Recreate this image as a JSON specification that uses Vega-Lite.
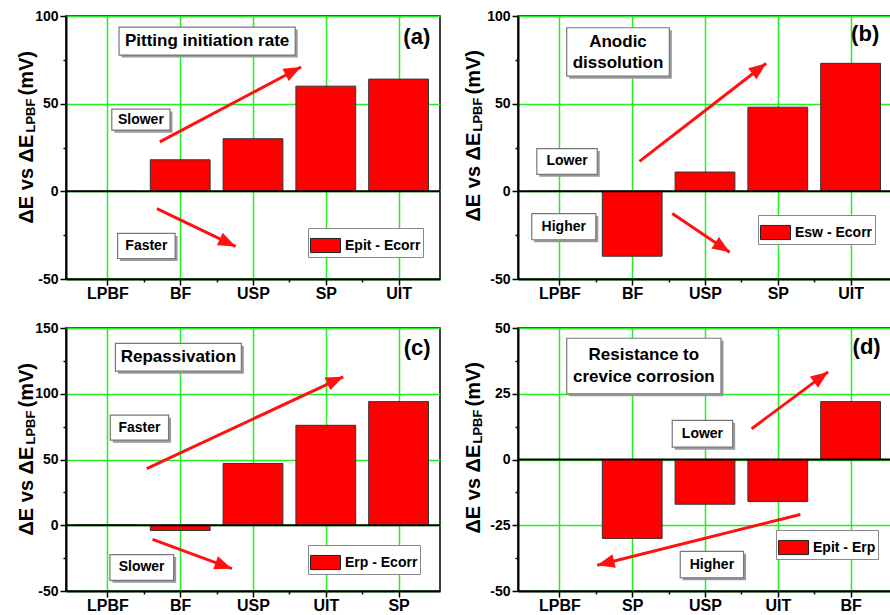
{
"$schema": "https://vega.github.io/schema/vega-lite/v6.json",
"padding": {"left": 15, "top": 8, "right": 0, "bottom": 0},
"bounds": "flush",
"columns": 2,
"spacing": {"row": 49, "column": 78},
"resolve": {"scale": {"fill": "independent"}, "legend": {"fill": "independent"}},
"config": {
  "font": "Liberation Sans",
  "view": {"stroke": "black", "strokeWidth": 1.5},
  "axis": {"domainColor": "black", "domainWidth": 2, "tickColor": "black", "tickWidth": 1.5, "labelColor": "black", "labelFont": "Liberation Sans", "labelFontWeight": "bold", "titleFont": "Liberation Sans", "titleFontWeight": "bold", "titleColor": "black", "gridColor": "#22ee22", "gridWidth": 1.5},
  "legend": {"labelFont": "Liberation Sans", "labelFontWeight": "bold", "labelColor": "black", "labelFontSize": 14, "strokeColor": "#888", "fillColor": "white", "padding": 2, "labelOffset": 4, "symbolType": "M-1,-0.47H1V0.47H-1Z", "symbolSize": 900, "symbolStrokeColor": "#222", "symbolStrokeWidth": 1}
},
"concat": [
{
 "width": 374, "height": 263,
 "resolve": {"axis": {"y": "independent", "x": "independent"}},
 "layer": [
  {
   "data": {"values": [
     {"order": 1, "sample": "LPBF", "value": 0, "series": "Epit - Ecorr"},
     {"order": 2, "sample": "BF", "value": 18, "series": "Epit - Ecorr"},
     {"order": 3, "sample": "USP", "value": 30, "series": "Epit - Ecorr"},
     {"order": 4, "sample": "SP", "value": 60, "series": "Epit - Ecorr"},
     {"order": 5, "sample": "UIT", "value": 64, "series": "Epit - Ecorr"}]},
   "mark": {"type": "bar", "stroke": "#333", "strokeWidth": 1, "width": 59.8},
   "encoding": {
     "x": {"field": "order", "type": "quantitative", "scale": {"domain": [0.5, 5.5], "nice": false, "zero": false}, "axis": {"title": null, "values": [1, 2, 3, 4, 5], "labelExpr": "datum.value == 1 ? 'LPBF' : datum.value == 2 ? 'BF' : datum.value == 3 ? 'USP' : datum.value == 4 ? 'SP' : 'UIT'", "labelFontSize": 16, "labelPadding": 0, "tickSize": 6, "grid": true}},
     "y": {"field": "value", "type": "quantitative", "scale": {"domain": [-50, 100], "nice": false, "zero": false}, "axis": {"orient": "left", "values": [-50, -25, 0, 25, 50, 75, 100], "labelExpr": "datum.value % 50 === 0 ? '' + datum.value : ''", "tickSize": {"condition": {"test": "datum.value % 50 !== 0", "value": 3}, "value": 6}, "gridOpacity": {"condition": {"test": "datum.value % 50 !== 0", "value": 0}, "value": 1}, "grid": true, "labelFontSize": 14, "labelPadding": 2, "title": "ΔE vs ΔE", "titleFontSize": 20, "titleAngle": 270, "titleAlign": "left", "titleBaseline": "alphabetic", "titleX": -34, "titleY": 207}},
     "fill": {"field": "series", "type": "nominal", "scale": {"range": ["#ff0000"]}, "legend": {"title": null, "orient": "none", "legendX": 242, "legendY": 212}}
   }
  },
  {"data": {"values": [{}]}, "mark": {"type": "rule", "color": "black", "strokeWidth": 2}, "encoding": {"y": {"datum": 0, "axis": null}}},
  {"data": {"values": [{}]}, "mark": {"type": "point", "opacity": 0}, "encoding": {"x": {"datum": 1, "type": "quantitative", "axis": {"orient": "bottom", "values": [1.5, 2.5, 3.5, 4.5], "labels": false, "domain": false, "grid": false, "tickSize": 3, "title": null}}, "y": {"datum": 0, "axis": {"orient": "left", "labels": false, "ticks": false, "domain": false, "grid": false, "title": "LPBF", "titleFontSize": 13, "titleAngle": 270, "titleAlign": "left", "titleBaseline": "alphabetic", "titleX": -32, "titleY": 116}}}},
  {"data": {"values": [{}]}, "mark": {"type": "point", "opacity": 0}, "encoding": {"x": {"datum": 1, "type": "quantitative", "axis": null}, "y": {"datum": 0, "axis": {"orient": "left", "labels": false, "ticks": false, "domain": false, "grid": false, "title": "(mV)", "titleFontSize": 20, "titleAngle": 270, "titleAlign": "left", "titleBaseline": "alphabetic", "titleX": -34, "titleY": 79}}}},
  {"data": {"values": [
     {"label": "Pitting initiation rate", "kind": "title", "x1": 1.16, "x2": 3.58, "y1": 77.7, "y2": 93.7, "tx": 2.37, "ty": 85.7},
     {"label": "Slower", "kind": "side", "x1": 1.06, "x2": 1.86, "y1": 34.9, "y2": 46.9, "tx": 1.46, "ty": 40.9},
     {"label": "Faster", "kind": "side", "x1": 1.14, "x2": 1.93, "y1": -38.3, "y2": -24, "tx": 1.535, "ty": -31.2}]},
   "layer": [
     {"mark": {"type": "rect", "fill": "#9a9a9a", "xOffset": 2.5, "x2Offset": 2.5, "yOffset": 2.5, "y2Offset": 2.5},
      "encoding": {"x": {"field": "x1", "type": "quantitative", "axis": null}, "x2": {"field": "x2"}, "y": {"field": "y1", "type": "quantitative", "axis": null}, "y2": {"field": "y2"}}},
     {"mark": {"type": "rect", "fill": "white", "stroke": "#777", "strokeWidth": 1.2},
      "encoding": {"x": {"field": "x1", "type": "quantitative", "axis": null}, "x2": {"field": "x2"}, "y": {"field": "y1", "type": "quantitative", "axis": null}, "y2": {"field": "y2"}}},
     {"transform": [{"filter": "datum.kind === 'title'"}], "mark": {"type": "text", "fontSize": 17, "fontWeight": "bold", "color": "black", "baseline": "middle", "lineBreak": "\n", "lineHeight": 21.6},
      "encoding": {"x": {"field": "tx", "type": "quantitative", "axis": null}, "y": {"field": "ty", "type": "quantitative", "axis": null}, "text": {"field": "label"}}},
     {"transform": [{"filter": "datum.kind === 'side'"}], "mark": {"type": "text", "fontSize": 14, "fontWeight": "bold", "color": "black", "baseline": "middle"},
      "encoding": {"x": {"field": "tx", "type": "quantitative", "axis": null}, "y": {"field": "ty", "type": "quantitative", "axis": null}, "text": {"field": "label"}}}
   ]},
  {"data": {"values": [
     {"x1": 1.72, "y1": 28.2, "x2": 3.66, "y2": 70.9, "ang": -27},
     {"x1": 1.68, "y1": -9.9, "x2": 2.76, "y2": -31.4, "ang": 25}]},
   "layer": [
     {"mark": {"type": "rule", "color": "#ff1111", "strokeWidth": 3},
      "encoding": {"x": {"field": "x1", "type": "quantitative", "axis": null}, "x2": {"field": "x2"}, "y": {"field": "y1", "type": "quantitative", "axis": null}, "y2": {"field": "y2"}}},
     {"mark": {"type": "point", "shape": "M0,0L-1,-0.4L-1,0.4Z", "size": 1200, "filled": true, "color": "#ff1111", "opacity": 1},
      "encoding": {"x": {"field": "x2", "type": "quantitative", "axis": null}, "y": {"field": "y2", "type": "quantitative", "axis": null}, "angle": {"field": "ang", "type": "quantitative", "scale": null}}}
   ]},
  {"data": {"values": [{"t": "(a)", "tx": 5.25, "ty": 88}]},
   "mark": {"type": "text", "fontSize": 22, "fontWeight": "bold", "color": "black", "baseline": "middle"},
   "encoding": {"x": {"field": "tx", "type": "quantitative", "axis": null}, "y": {"field": "ty", "type": "quantitative", "axis": null}, "text": {"field": "t"}}}
 ]
},
{
 "width": 374, "height": 263,
 "resolve": {"axis": {"y": "independent", "x": "independent"}},
 "layer": [
  {
   "data": {"values": [
     {"order": 1, "sample": "LPBF", "value": 0, "series": "Esw - Ecorr"},
     {"order": 2, "sample": "BF", "value": -37, "series": "Esw - Ecorr"},
     {"order": 3, "sample": "USP", "value": 11, "series": "Esw - Ecorr"},
     {"order": 4, "sample": "SP", "value": 48, "series": "Esw - Ecorr"},
     {"order": 5, "sample": "UIT", "value": 73, "series": "Esw - Ecorr"}]},
   "mark": {"type": "bar", "stroke": "#333", "strokeWidth": 1, "width": 59.8},
   "encoding": {
     "x": {"field": "order", "type": "quantitative", "scale": {"domain": [0.5, 5.5], "nice": false, "zero": false}, "axis": {"title": null, "values": [1, 2, 3, 4, 5], "labelExpr": "datum.value == 1 ? 'LPBF' : datum.value == 2 ? 'BF' : datum.value == 3 ? 'USP' : datum.value == 4 ? 'SP' : 'UIT'", "labelFontSize": 16, "labelPadding": 0, "tickSize": 6, "grid": true}},
     "y": {"field": "value", "type": "quantitative", "scale": {"domain": [-50, 100], "nice": false, "zero": false}, "axis": {"orient": "left", "values": [-50, -25, 0, 25, 50, 75, 100], "labelExpr": "datum.value % 50 === 0 ? '' + datum.value : ''", "tickSize": {"condition": {"test": "datum.value % 50 !== 0", "value": 3}, "value": 6}, "gridOpacity": {"condition": {"test": "datum.value % 50 !== 0", "value": 0}, "value": 1}, "grid": true, "labelFontSize": 14, "labelPadding": 2, "title": "ΔE vs ΔE", "titleFontSize": 20, "titleAngle": 270, "titleAlign": "left", "titleBaseline": "alphabetic", "titleX": -39, "titleY": 205}},
     "fill": {"field": "series", "type": "nominal", "scale": {"range": ["#ff0000"]}, "legend": {"title": null, "orient": "none", "legendX": 240, "legendY": 199}}
   }
  },
  {"data": {"values": [{}]}, "mark": {"type": "rule", "color": "black", "strokeWidth": 2}, "encoding": {"y": {"datum": 0, "axis": null}}},
  {"data": {"values": [{}]}, "mark": {"type": "point", "opacity": 0}, "encoding": {"x": {"datum": 1, "type": "quantitative", "axis": {"orient": "bottom", "values": [1.5, 2.5, 3.5, 4.5], "labels": false, "domain": false, "grid": false, "tickSize": 3, "title": null}}, "y": {"datum": 0, "axis": {"orient": "left", "labels": false, "ticks": false, "domain": false, "grid": false, "title": "LPBF", "titleFontSize": 13, "titleAngle": 270, "titleAlign": "left", "titleBaseline": "alphabetic", "titleX": -37, "titleY": 115}}}},
  {"data": {"values": [{}]}, "mark": {"type": "point", "opacity": 0}, "encoding": {"x": {"datum": 1, "type": "quantitative", "axis": null}, "y": {"datum": 0, "axis": {"orient": "left", "labels": false, "ticks": false, "domain": false, "grid": false, "title": "(mV)", "titleFontSize": 20, "titleAngle": 270, "titleAlign": "left", "titleBaseline": "alphabetic", "titleX": -39, "titleY": 78}}}},
  {"data": {"values": [
     {"label": "Anodic\ndissolution", "kind": "title", "x1": 1.10, "x2": 2.51, "y1": 65.7, "y2": 93.3, "tx": 1.805, "ty": 85.3},
     {"label": "Lower", "kind": "side", "x1": 0.69, "x2": 1.52, "y1": 9.7, "y2": 24.4, "tx": 1.105, "ty": 17.05},
     {"label": "Higher", "kind": "side", "x1": 0.62, "x2": 1.50, "y1": -27.6, "y2": -12.7, "tx": 1.06, "ty": -20.15}]},
   "layer": [
     {"mark": {"type": "rect", "fill": "#9a9a9a", "xOffset": 2.5, "x2Offset": 2.5, "yOffset": 2.5, "y2Offset": 2.5},
      "encoding": {"x": {"field": "x1", "type": "quantitative", "axis": null}, "x2": {"field": "x2"}, "y": {"field": "y1", "type": "quantitative", "axis": null}, "y2": {"field": "y2"}}},
     {"mark": {"type": "rect", "fill": "white", "stroke": "#777", "strokeWidth": 1.2},
      "encoding": {"x": {"field": "x1", "type": "quantitative", "axis": null}, "x2": {"field": "x2"}, "y": {"field": "y1", "type": "quantitative", "axis": null}, "y2": {"field": "y2"}}},
     {"transform": [{"filter": "datum.kind === 'title'"}], "mark": {"type": "text", "fontSize": 17, "fontWeight": "bold", "color": "black", "baseline": "middle", "lineBreak": "\n", "lineHeight": 21.6},
      "encoding": {"x": {"field": "tx", "type": "quantitative", "axis": null}, "y": {"field": "ty", "type": "quantitative", "axis": null}, "text": {"field": "label"}}},
     {"transform": [{"filter": "datum.kind === 'side'"}], "mark": {"type": "text", "fontSize": 14, "fontWeight": "bold", "color": "black", "baseline": "middle"},
      "encoding": {"x": {"field": "tx", "type": "quantitative", "axis": null}, "y": {"field": "ty", "type": "quantitative", "axis": null}, "text": {"field": "label"}}}
   ]},
  {"data": {"values": [
     {"x1": 2.10, "y1": 17.1, "x2": 3.84, "y2": 73, "ang": -37},
     {"x1": 2.55, "y1": -12.7, "x2": 3.34, "y2": -34.7, "ang": 33}]},
   "layer": [
     {"mark": {"type": "rule", "color": "#ff1111", "strokeWidth": 3},
      "encoding": {"x": {"field": "x1", "type": "quantitative", "axis": null}, "x2": {"field": "x2"}, "y": {"field": "y1", "type": "quantitative", "axis": null}, "y2": {"field": "y2"}}},
     {"mark": {"type": "point", "shape": "M0,0L-1,-0.4L-1,0.4Z", "size": 1200, "filled": true, "color": "#ff1111", "opacity": 1},
      "encoding": {"x": {"field": "x2", "type": "quantitative", "axis": null}, "y": {"field": "y2", "type": "quantitative", "axis": null}, "angle": {"field": "ang", "type": "quantitative", "scale": null}}}
   ]},
  {"data": {"values": [{"t": "(b)", "tx": 5.2, "ty": 90}]},
   "mark": {"type": "text", "fontSize": 22, "fontWeight": "bold", "color": "black", "baseline": "middle"},
   "encoding": {"x": {"field": "tx", "type": "quantitative", "axis": null}, "y": {"field": "ty", "type": "quantitative", "axis": null}, "text": {"field": "t"}}}
 ]
},
{
 "width": 374, "height": 263,
 "resolve": {"axis": {"y": "independent", "x": "independent"}},
 "layer": [
  {
   "data": {"values": [
     {"order": 1, "sample": "LPBF", "value": 0, "series": "Erp - Ecorr"},
     {"order": 2, "sample": "BF", "value": -4, "series": "Erp - Ecorr"},
     {"order": 3, "sample": "USP", "value": 47, "series": "Erp - Ecorr"},
     {"order": 4, "sample": "UIT", "value": 76, "series": "Erp - Ecorr"},
     {"order": 5, "sample": "SP", "value": 94, "series": "Erp - Ecorr"}]},
   "mark": {"type": "bar", "stroke": "#333", "strokeWidth": 1, "width": 59.8},
   "encoding": {
     "x": {"field": "order", "type": "quantitative", "scale": {"domain": [0.5, 5.5], "nice": false, "zero": false}, "axis": {"title": null, "values": [1, 2, 3, 4, 5], "labelExpr": "datum.value == 1 ? 'LPBF' : datum.value == 2 ? 'BF' : datum.value == 3 ? 'USP' : datum.value == 4 ? 'UIT' : 'SP'", "labelFontSize": 16, "labelPadding": 0, "tickSize": 6, "grid": true}},
     "y": {"field": "value", "type": "quantitative", "scale": {"domain": [-50, 150], "nice": false, "zero": false}, "axis": {"orient": "left", "values": [-50, -25, 0, 25, 50, 75, 100, 125, 150], "labelExpr": "datum.value % 50 === 0 ? '' + datum.value : ''", "tickSize": {"condition": {"test": "datum.value % 50 !== 0", "value": 3}, "value": 6}, "gridOpacity": {"condition": {"test": "datum.value % 50 !== 0", "value": 0}, "value": 1}, "grid": true, "labelFontSize": 14, "labelPadding": 2, "title": "ΔE vs ΔE", "titleFontSize": 20, "titleAngle": 270, "titleAlign": "left", "titleBaseline": "alphabetic", "titleX": -34, "titleY": 207}},
     "fill": {"field": "series", "type": "nominal", "scale": {"range": ["#ff0000"]}, "legend": {"title": null, "orient": "none", "legendX": 242, "legendY": 217}}
   }
  },
  {"data": {"values": [{}]}, "mark": {"type": "rule", "color": "black", "strokeWidth": 2}, "encoding": {"y": {"datum": 0, "axis": null}}},
  {"data": {"values": [{}]}, "mark": {"type": "point", "opacity": 0}, "encoding": {"x": {"datum": 1, "type": "quantitative", "axis": {"orient": "bottom", "values": [1.5, 2.5, 3.5, 4.5], "labels": false, "domain": false, "grid": false, "tickSize": 3, "title": null}}, "y": {"datum": 0, "axis": {"orient": "left", "labels": false, "ticks": false, "domain": false, "grid": false, "title": "LPBF", "titleFontSize": 13, "titleAngle": 270, "titleAlign": "left", "titleBaseline": "alphabetic", "titleX": -32, "titleY": 116}}}},
  {"data": {"values": [{}]}, "mark": {"type": "point", "opacity": 0}, "encoding": {"x": {"datum": 1, "type": "quantitative", "axis": null}, "y": {"datum": 0, "axis": {"orient": "left", "labels": false, "ticks": false, "domain": false, "grid": false, "title": "(mV)", "titleFontSize": 20, "titleAngle": 270, "titleAlign": "left", "titleBaseline": "alphabetic", "titleX": -34, "titleY": 79}}}},
  {"data": {"values": [
     {"label": "Repassivation", "kind": "title", "x1": 1.11, "x2": 2.84, "y1": 117.2, "y2": 138.3, "tx": 1.975, "ty": 127.75},
     {"label": "Faster", "kind": "side", "x1": 1.04, "x2": 1.84, "y1": 64.7, "y2": 83.7, "tx": 1.44, "ty": 74.2},
     {"label": "Slower", "kind": "side", "x1": 1.035, "x2": 1.91, "y1": -41.9, "y2": -22.3, "tx": 1.47, "ty": -32.1}]},
   "layer": [
     {"mark": {"type": "rect", "fill": "#9a9a9a", "xOffset": 2.5, "x2Offset": 2.5, "yOffset": 2.5, "y2Offset": 2.5},
      "encoding": {"x": {"field": "x1", "type": "quantitative", "axis": null}, "x2": {"field": "x2"}, "y": {"field": "y1", "type": "quantitative", "axis": null}, "y2": {"field": "y2"}}},
     {"mark": {"type": "rect", "fill": "white", "stroke": "#777", "strokeWidth": 1.2},
      "encoding": {"x": {"field": "x1", "type": "quantitative", "axis": null}, "x2": {"field": "x2"}, "y": {"field": "y1", "type": "quantitative", "axis": null}, "y2": {"field": "y2"}}},
     {"transform": [{"filter": "datum.kind === 'title'"}], "mark": {"type": "text", "fontSize": 17, "fontWeight": "bold", "color": "black", "baseline": "middle", "lineBreak": "\n", "lineHeight": 21.6},
      "encoding": {"x": {"field": "tx", "type": "quantitative", "axis": null}, "y": {"field": "ty", "type": "quantitative", "axis": null}, "text": {"field": "label"}}},
     {"transform": [{"filter": "datum.kind === 'side'"}], "mark": {"type": "text", "fontSize": 14, "fontWeight": "bold", "color": "black", "baseline": "middle"},
      "encoding": {"x": {"field": "tx", "type": "quantitative", "axis": null}, "y": {"field": "ty", "type": "quantitative", "axis": null}, "text": {"field": "label"}}}
   ]},
  {"data": {"values": [
     {"x1": 1.54, "y1": 43.1, "x2": 4.24, "y2": 112.9, "ang": -24},
     {"x1": 1.62, "y1": -10.7, "x2": 2.71, "y2": -33, "ang": 20}]},
   "layer": [
     {"mark": {"type": "rule", "color": "#ff1111", "strokeWidth": 3},
      "encoding": {"x": {"field": "x1", "type": "quantitative", "axis": null}, "x2": {"field": "x2"}, "y": {"field": "y1", "type": "quantitative", "axis": null}, "y2": {"field": "y2"}}},
     {"mark": {"type": "point", "shape": "M0,0L-1,-0.4L-1,0.4Z", "size": 1200, "filled": true, "color": "#ff1111", "opacity": 1},
      "encoding": {"x": {"field": "x2", "type": "quantitative", "axis": null}, "y": {"field": "y2", "type": "quantitative", "axis": null}, "angle": {"field": "ang", "type": "quantitative", "scale": null}}}
   ]},
  {"data": {"values": [{"t": "(c)", "tx": 5.255, "ty": 134.5}]},
   "mark": {"type": "text", "fontSize": 22, "fontWeight": "bold", "color": "black", "baseline": "middle"},
   "encoding": {"x": {"field": "tx", "type": "quantitative", "axis": null}, "y": {"field": "ty", "type": "quantitative", "axis": null}, "text": {"field": "t"}}}
 ]
},
{
 "width": 374, "height": 263,
 "resolve": {"axis": {"y": "independent", "x": "independent"}},
 "layer": [
  {
   "data": {"values": [
     {"order": 1, "sample": "LPBF", "value": 0, "series": "Epit - Erp"},
     {"order": 2, "sample": "SP", "value": -30, "series": "Epit - Erp"},
     {"order": 3, "sample": "USP", "value": -17, "series": "Epit - Erp"},
     {"order": 4, "sample": "UIT", "value": -16, "series": "Epit - Erp"},
     {"order": 5, "sample": "BF", "value": 22, "series": "Epit - Erp"}]},
   "mark": {"type": "bar", "stroke": "#333", "strokeWidth": 1, "width": 59.8},
   "encoding": {
     "x": {"field": "order", "type": "quantitative", "scale": {"domain": [0.5, 5.5], "nice": false, "zero": false}, "axis": {"title": null, "values": [1, 2, 3, 4, 5], "labelExpr": "datum.value == 1 ? 'LPBF' : datum.value == 2 ? 'SP' : datum.value == 3 ? 'USP' : datum.value == 4 ? 'UIT' : 'BF'", "labelFontSize": 16, "labelPadding": 0, "tickSize": 6, "grid": true}},
     "y": {"field": "value", "type": "quantitative", "scale": {"domain": [-50, 50], "nice": false, "zero": false}, "axis": {"orient": "left", "values": [-50, -37.5, -25, -12.5, 0, 12.5, 25, 37.5, 50], "labelExpr": "datum.value % 25 === 0 ? '' + datum.value : ''", "tickSize": {"condition": {"test": "datum.value % 25 !== 0", "value": 3}, "value": 6}, "gridOpacity": {"condition": {"test": "datum.value % 25 !== 0", "value": 0}, "value": 1}, "grid": true, "labelFontSize": 14, "labelPadding": 2, "title": "ΔE vs ΔE", "titleFontSize": 20, "titleAngle": 270, "titleAlign": "left", "titleBaseline": "alphabetic", "titleX": -39, "titleY": 205}},
     "fill": {"field": "series", "type": "nominal", "scale": {"range": ["#ff0000"]}, "legend": {"title": null, "orient": "none", "legendX": 258, "legendY": 202}}
   }
  },
  {"data": {"values": [{}]}, "mark": {"type": "rule", "color": "black", "strokeWidth": 2}, "encoding": {"y": {"datum": 0, "axis": null}}},
  {"data": {"values": [{}]}, "mark": {"type": "point", "opacity": 0}, "encoding": {"x": {"datum": 1, "type": "quantitative", "axis": {"orient": "bottom", "values": [1.5, 2.5, 3.5, 4.5], "labels": false, "domain": false, "grid": false, "tickSize": 3, "title": null}}, "y": {"datum": 0, "axis": {"orient": "left", "labels": false, "ticks": false, "domain": false, "grid": false, "title": "LPBF", "titleFontSize": 13, "titleAngle": 270, "titleAlign": "left", "titleBaseline": "alphabetic", "titleX": -37, "titleY": 115}}}},
  {"data": {"values": [{}]}, "mark": {"type": "point", "opacity": 0}, "encoding": {"x": {"datum": 1, "type": "quantitative", "axis": null}, "y": {"datum": 0, "axis": {"orient": "left", "labels": false, "ticks": false, "domain": false, "grid": false, "title": "(mV)", "titleFontSize": 20, "titleAngle": 270, "titleAlign": "left", "titleBaseline": "alphabetic", "titleX": -39, "titleY": 78}}}},
  {"data": {"values": [
     {"label": "Resistance to\ncrevice corrosion", "kind": "title", "x1": 1.10, "x2": 3.22, "y1": 25.0, "y2": 46.1, "tx": 2.16, "ty": 39.6},
     {"label": "Lower", "kind": "side", "x1": 2.55, "x2": 3.38, "y1": 4.7, "y2": 14.85, "tx": 2.965, "ty": 9.8},
     {"label": "Higher", "kind": "side", "x1": 2.66, "x2": 3.53, "y1": -45, "y2": -34.9, "tx": 3.095, "ty": -39.95}]},
   "layer": [
     {"mark": {"type": "rect", "fill": "#9a9a9a", "xOffset": 2.5, "x2Offset": 2.5, "yOffset": 2.5, "y2Offset": 2.5},
      "encoding": {"x": {"field": "x1", "type": "quantitative", "axis": null}, "x2": {"field": "x2"}, "y": {"field": "y1", "type": "quantitative", "axis": null}, "y2": {"field": "y2"}}},
     {"mark": {"type": "rect", "fill": "white", "stroke": "#777", "strokeWidth": 1.2},
      "encoding": {"x": {"field": "x1", "type": "quantitative", "axis": null}, "x2": {"field": "x2"}, "y": {"field": "y1", "type": "quantitative", "axis": null}, "y2": {"field": "y2"}}},
     {"transform": [{"filter": "datum.kind === 'title'"}], "mark": {"type": "text", "fontSize": 17, "fontWeight": "bold", "color": "black", "baseline": "middle", "lineBreak": "\n", "lineHeight": 21.6},
      "encoding": {"x": {"field": "tx", "type": "quantitative", "axis": null}, "y": {"field": "ty", "type": "quantitative", "axis": null}, "text": {"field": "label"}}},
     {"transform": [{"filter": "datum.kind === 'side'"}], "mark": {"type": "text", "fontSize": 14, "fontWeight": "bold", "color": "black", "baseline": "middle"},
      "encoding": {"x": {"field": "tx", "type": "quantitative", "axis": null}, "y": {"field": "ty", "type": "quantitative", "axis": null}, "text": {"field": "label"}}}
   ]},
  {"data": {"values": [
     {"x1": 3.64, "y1": 11.7, "x2": 4.69, "y2": 33.3, "ang": -36},
     {"x1": 4.31, "y1": -20.9, "x2": 1.52, "y2": -40.2, "ang": 166}]},
   "layer": [
     {"mark": {"type": "rule", "color": "#ff1111", "strokeWidth": 3},
      "encoding": {"x": {"field": "x1", "type": "quantitative", "axis": null}, "x2": {"field": "x2"}, "y": {"field": "y1", "type": "quantitative", "axis": null}, "y2": {"field": "y2"}}},
     {"mark": {"type": "point", "shape": "M0,0L-1,-0.4L-1,0.4Z", "size": 1200, "filled": true, "color": "#ff1111", "opacity": 1},
      "encoding": {"x": {"field": "x2", "type": "quantitative", "axis": null}, "y": {"field": "y2", "type": "quantitative", "axis": null}, "angle": {"field": "ang", "type": "quantitative", "scale": null}}}
   ]},
  {"data": {"values": [{"t": "(d)", "tx": 5.22, "ty": 42.8}]},
   "mark": {"type": "text", "fontSize": 22, "fontWeight": "bold", "color": "black", "baseline": "middle"},
   "encoding": {"x": {"field": "tx", "type": "quantitative", "axis": null}, "y": {"field": "ty", "type": "quantitative", "axis": null}, "text": {"field": "t"}}}
 ]
}
]
}
